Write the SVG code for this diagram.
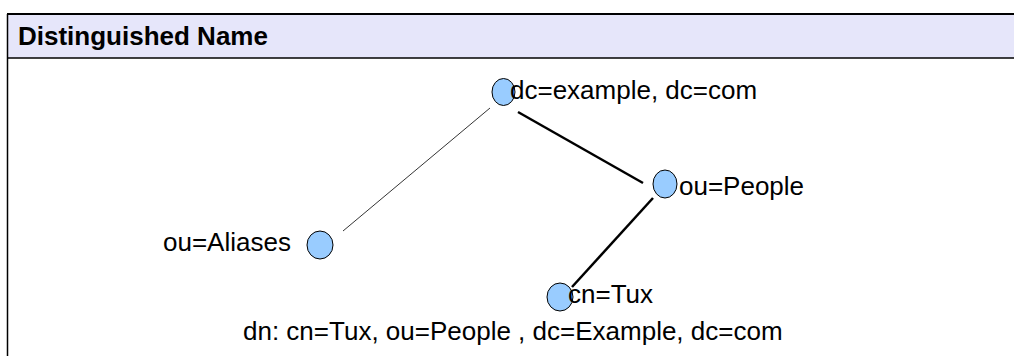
<svg xmlns="http://www.w3.org/2000/svg" width="1014" height="356" viewBox="0 0 1014 356">
<style>
.node{fill:#99ccff;stroke:#000;stroke-width:1}
.lbl{font-family:"Liberation Sans",Arial,sans-serif;font-size:26px;fill:#000}
.title{font-family:"Liberation Sans",Arial,sans-serif;font-size:26px;font-weight:bold;fill:#000}
</style>
<rect width="1014" height="356" fill="#fff"/>
<g id="frame">
<rect x="7" y="14" width="1020" height="44" fill="#e6e6fa" stroke="none"/>
<line x1="7" y1="14" x2="1014" y2="14" stroke="#000" stroke-width="2"/>
<line x1="7" y1="58" x2="1014" y2="58" stroke="#000" stroke-width="1.5"/>
<line x1="7.5" y1="14" x2="7.5" y2="356" stroke="#000" stroke-width="1.5"/>
<text class="title" x="18" y="45">Distinguished Name</text>
</g>
<g id="connectors" stroke="#000" fill="none">
<line x1="490" y1="108" x2="343" y2="231" stroke-width="0.8"/>
<line x1="518" y1="112" x2="643" y2="183" stroke-width="2.5"/>
<line x1="653" y1="198" x2="572" y2="287" stroke-width="2.5"/>
</g>
<g id="root">
<ellipse class="node" cx="503.5" cy="92" rx="11.5" ry="13.5"/>
<text class="lbl" x="510" y="99">dc=example, dc=com</text>
</g>
<g id="people">
<ellipse class="node" cx="665" cy="184" rx="12" ry="14"/>
<text class="lbl" x="679" y="195">ou=People</text>
</g>
<g id="tux">
<ellipse class="node" cx="560" cy="297" rx="13" ry="14"/>
<text class="lbl" x="568" y="303">cn=Tux</text>
</g>
<g id="aliases">
<ellipse class="node" cx="320" cy="245" rx="13" ry="14"/>
<text class="lbl" x="163" y="251">ou=Aliases</text>
</g>
<g id="caption">
<text class="lbl" x="243" y="340">dn: cn=Tux, ou=People , dc=Example, dc=com</text>
</g>
</svg>
